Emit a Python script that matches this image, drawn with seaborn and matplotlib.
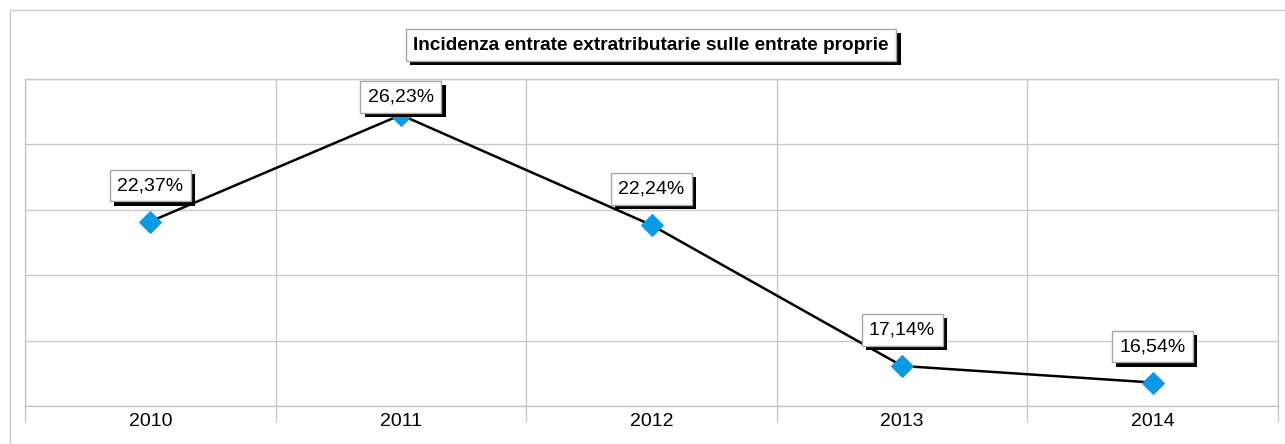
import matplotlib
matplotlib.use("Agg")
import matplotlib.pyplot as plt
import matplotlib.patheffects as pe
from matplotlib.lines import Line2D
import seaborn as sns
import pandas as pd
import numpy as np

years = ["2010", "2011", "2012", "2013", "2014"]
incidenza = [22.37, 26.23, 22.24, 17.14, 16.54]
labels = ["22,37%", "26,23%", "22,24%", "17,14%", "16,54%"]
title = "Incidenza entrate extratributarie sulle entrate proprie"

GRID = "#c8c8c8"
BLUE = "#0a9be6"

sns.set_theme(style="white")
plt.rcParams["font.family"] = ["Liberation Sans", "DejaVu Sans"]
plt.rcParams["text.color"] = "black"
plt.rcParams["xtick.color"] = "black"

df = pd.DataFrame({"pos": np.arange(len(years)), "value": incidenza})

fig = plt.figure(figsize=(12.85, 4.44), dpi=100)
ax = fig.add_axes([25 / 1285, 38 / 444, 1253 / 1285, 327 / 444])

sns.lineplot(data=df, x="pos", y="value", ax=ax, color="black", linewidth=1.8,
             marker="D", markersize=11, markerfacecolor=BLUE, markeredgecolor=BLUE,
             zorder=3)

ymin, ymax = 15.69, 27.53
ax.set_ylim(ymin, ymax)
ax.set_xlim(-0.5, len(years) - 0.5)
ax.set_yticks(np.linspace(ymin, ymax, 6))
ax.set_yticklabels([])
ax.set_xticks(np.arange(len(years)))
ax.set_xticklabels(years, fontsize=14, color="black")
ax.set_xticks(np.arange(-0.5, len(years), 1.0), minor=True)
ax.tick_params(axis="x", which="major", length=0, pad=5)
ax.tick_params(axis="x", which="minor", length=11.5, width=1, color=GRID, bottom=True)
ax.tick_params(axis="y", length=0)
ax.set_xlabel("")
ax.set_ylabel("")
ax.grid(True, which="major", axis="y", color=GRID, linewidth=1)
ax.grid(True, which="minor", axis="x", color=GRID, linewidth=1)
for s in ax.spines.values():
    s.set_color(GRID)
    s.set_linewidth(1)

# value labels in boxes with a black drop shadow
fig.canvas.draw()
ax_top = ax.transData.transform((0, ymax))[1]
for i, (v, lab) in enumerate(zip(incidenza, labels)):
    py = ax.transData.transform((i, v))[1]
    cy = min(py + 36, ax_top - 18)
    t = ax.annotate(lab, xy=(i, v), xytext=(0, (cy - py) * 72 / 100),
                    textcoords="offset points", ha="center", va="center",
                    fontsize=14, color="black", zorder=5,
                    bbox=dict(boxstyle="square,pad=0.38", fc="white", ec="#a8a8a8", lw=1))
    t.get_bbox_patch().set_path_effects([
        pe.SimplePatchShadow(offset=(3, -3), shadow_rgbFace="black", alpha=1),
        pe.Normal()])

# title box
tt = fig.text(651 / 1285, 1 - 45 / 444, title, ha="center", va="center",
              fontsize=13.7, fontweight="bold", color="black",
              bbox=dict(boxstyle="square,pad=0.4", fc="white", ec="#a8a8a8", lw=1))
tt.get_bbox_patch().set_path_effects([
    pe.SimplePatchShadow(offset=(3, -3), shadow_rgbFace="black", alpha=1),
    pe.Normal()])

# outer frame (top and left edges visible)
fig.add_artist(Line2D([10 / 1285, 1], [1 - 10 / 444, 1 - 10 / 444], color=GRID, lw=1))
fig.add_artist(Line2D([10 / 1285, 10 / 1285], [0, 1 - 10 / 444], color=GRID, lw=1))

fig.savefig("out.png", dpi=100)
